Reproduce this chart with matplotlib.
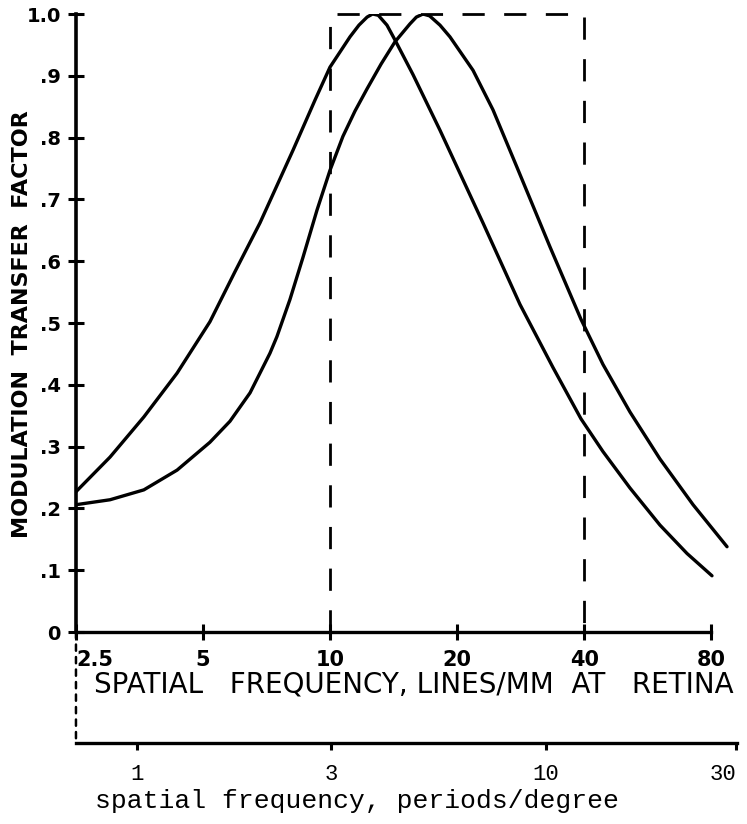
import matplotlib
matplotlib.use("Agg")
import matplotlib.pyplot as plt
from matplotlib.patches import ConnectionPatch

# Curves: spatial frequency (lines/mm) vs modulation transfer factor
freq_a = [2.5, 3.01, 3.62, 4.34, 5.19, 5.95, 6.82, 8.17, 9.21, 9.99, 11.14, 11.7,
          12.23, 12.6, 13.0, 13.63, 14.24, 15.71, 18.20, 23.01, 28.16, 33.71,
          39.27, 44.27, 51.30, 60.41, 70.03, 80.23]
mtf_a = [0.227, 0.283, 0.348, 0.419, 0.502, 0.583, 0.662, 0.780, 0.861, 0.914, 0.963, 0.982,
         0.995, 1.0, 0.998, 0.982, 0.958, 0.902, 0.812, 0.662, 0.530, 0.428,
         0.345, 0.292, 0.233, 0.173, 0.127, 0.091]

freq_b = [2.5, 3.01, 3.62, 4.34, 5.19, 5.79, 6.46, 7.20, 7.48, 8.03, 8.62, 9.31,
          9.99, 10.72, 11.45, 12.23, 13.20, 14.24, 15.45, 16.0, 16.59, 17.2,
          18.2, 19.22, 21.79, 24.30, 27.70, 33.17, 39.27, 44.27, 51.30, 60.41,
          72.36, 87.09]
mtf_b = [0.206, 0.214, 0.230, 0.262, 0.307, 0.341, 0.387, 0.451, 0.478, 0.538, 0.606, 0.683,
         0.747, 0.802, 0.843, 0.879, 0.919, 0.955, 0.984, 0.995, 1.0, 0.997,
         0.982, 0.963, 0.909, 0.845, 0.752, 0.623, 0.506, 0.433, 0.356, 0.280,
         0.206, 0.138]

# dashed pass band (lines/mm)
band_lo, band_hi = 10, 40

# main axis ticks (lines/mm)
x_ticks = [2.5, 5, 10, 20, 40, 80]
x_labels = ["2.5", "5", "10", "20", "40", "80"]
y_ticks = [0, 0.1, 0.2, 0.3, 0.4, 0.5, 0.6, 0.7, 0.8, 0.9, 1.0]
y_labels = ["0", ".1", ".2", ".3", ".4", ".5", ".6", ".7", ".8", ".9", "1.0"]

# second scale: periods/degree, positions as drawn in lines/mm
deg_ticks = [3.49, 10.04, 32.4, 91.4]
deg_labels = ["1", "3", "10", "30"]

x_min, x_max = 2.5, 91.95

fig = plt.figure(figsize=(7.47, 8.24), dpi=100)
ax = fig.add_axes([0.1017, 0.2330, 0.8849, 0.7500])

lw = 2.4
ax.plot(freq_a, mtf_a, color="black", lw=lw, solid_capstyle="round", solid_joinstyle="round")
ax.plot(freq_b, mtf_b, color="black", lw=lw, solid_capstyle="round", solid_joinstyle="round")
ax.plot([band_lo, band_lo, band_hi, band_hi], [0, 1.0, 1.0, 0], color="black",
        lw=2.0, linestyle=(0, (8, 7)), clip_on=False)

ax.set_xscale("log")
ax.set_xlim(x_min, x_max)
ax.set_ylim(0, 1.0)
ax.minorticks_off()

for s in ["top", "right"]:
    ax.spines[s].set_visible(False)
ax.spines["left"].set_linewidth(2.6)
ax.spines["bottom"].set_linewidth(2.4)
ax.spines["bottom"].set_bounds(2.5, 80)

ax.set_xticks(x_ticks)
ax.set_xticklabels(x_labels, fontsize=15, fontweight="bold")
ax.get_xticklabels()[0].set_horizontalalignment("left")
ax.set_yticks(y_ticks)
ax.set_yticklabels(y_labels, fontsize=14, fontweight="bold")
ax.tick_params(axis="x", direction="inout", length=12, width=2.2, pad=7)
ax.tick_params(axis="y", direction="inout", length=12, width=2.2, pad=5)

ax.set_ylabel("MODULATION  TRANSFER  FACTOR", fontsize=16, fontweight="bold")
ax.yaxis.set_label_coords(-0.066, 0.498)
ax.set_xlabel("SPATIAL   FREQUENCY, LINES/MM  AT   RETINA", fontsize=20)
ax.xaxis.set_label_coords(0.511, -0.062)

# lower scale in periods/degree
ax2 = fig.add_axes([0.1017, 0.0983, 0.8849, 0.02])
ax2.set_facecolor("none")
ax2.set_xscale("log")
ax2.set_xlim(x_min, x_max)
ax2.minorticks_off()
for s in ["top", "right", "left"]:
    ax2.spines[s].set_visible(False)
ax2.spines["bottom"].set_linewidth(2.4)
ax2.set_yticks([])
ax2.set_xticks(deg_ticks)
ax2.set_xticklabels(deg_labels, fontsize=16, family="Liberation Mono")
ax2.tick_params(axis="x", direction="out", length=5, width=2.2, pad=10)
ax2.get_xticklabels()[-1].set_horizontalalignment("right")
ax2.set_xlabel("spatial frequency, periods/degree", fontsize=19, family="Liberation Mono")
ax2.xaxis.set_label_coords(0.425, -2.8)

# dashed link between the two scales at 2.5 lines/mm
link = ConnectionPatch(xyA=(2.5, 0), coordsA=ax.transData,
                       xyB=(2.5, 0), coordsB=ax2.get_xaxis_transform(),
                       color="black", lw=1.8, linestyle=(0, (2.5, 2.5)))
fig.add_artist(link)

fig.savefig("out.png", dpi=100, facecolor="white")
